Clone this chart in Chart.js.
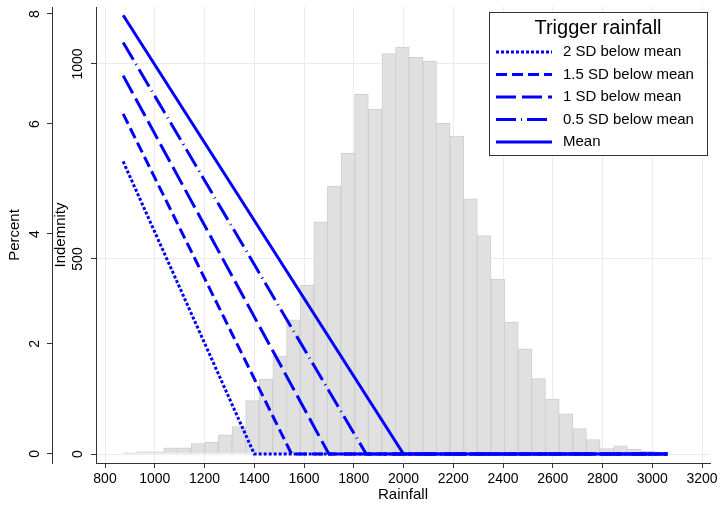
<!DOCTYPE html>
<html>
<head>
<meta charset="utf-8">
<script src="https://cdn.jsdelivr.net/npm/chart.js@4"></script>
<style>
  html, body { margin: 0; padding: 0; background: #fff; }
</style>
</head>
<body>
<canvas id="rainChart" width="721" height="507"></canvas>
<script>
// histogram of rainfall (percent per bin)
const binStart = 872;
const binWidth = 54.8;
const percent = [0.02, 0.04, 0.04, 0.11, 0.11, 0.19, 0.21, 0.35, 0.50, 0.97,
                 1.36, 1.78, 2.44, 3.07, 4.22, 4.87, 5.47, 6.54, 6.27, 7.28,
                 7.40, 7.21, 7.14, 6.01, 5.78, 4.64, 3.97, 3.18, 2.40, 1.91,
                 1.37, 1.00, 0.73, 0.46, 0.26, 0.10, 0.15, 0.09, 0.05, 0.02];

// indemnity lines for each trigger level
const triggerLabels = ['2 SD below mean', '1.5 SD below mean', '1 SD below mean', '0.5 SD below mean', 'Mean'];
const triggers = [1400, 1550, 1700, 1850, 2000];
const indemnityAtMin = [750, 872, 970, 1055, 1125];
const rainMin = 873;
const rainMax = 3061;

// tick labels
const xTicks = [800, 1000, 1200, 1400, 1600, 1800, 2000, 2200, 2400, 2600, 2800, 3000, 3200];
const pctTicks = [0, 2, 4, 6, 8];
const indTicks = [0, 500, 1000];

const dashes = [[3, 2], [11, 5], [20, 6], [20, 5, 1, 5], []];
const FONT = '"Liberation Sans", Arial, Helvetica, sans-serif';
Chart.defaults.font.family = FONT;
Chart.defaults.color = '#000';

const barData = percent.map((p, i) => ({ x: binStart + binWidth * (i + 0.5), y: p }));

const lineSets = triggers.map((t, i) => ({
  type: 'line',
  label: triggerLabels[i],
  data: [{ x: rainMin, y: indemnityAtMin[i] }, { x: t, y: 0 }, { x: rainMax, y: 0 }],
  yAxisID: 'yInd',
  borderColor: '#0000ff',
  borderWidth: 3,
  borderDash: dashes[i],
  borderCapStyle: 'butt',
  pointRadius: 0,
  tension: 0,
  fill: false,
  order: 5 - i
}));

const plain = v => String(v);
// no extra padding from label sizes, layout is fixed by hand
const noPad = s => { s.paddingTop = 0; s.paddingBottom = 0; s.paddingLeft = 0; s.paddingRight = 0; };

// Stata style legend box inside the plot
const legendBox = {
  id: 'legendBox',
  afterDraw(chart) {
    const ctx = chart.ctx;
    const x0 = 489, y0 = 12, w = 218, h = 143;
    ctx.save();
    ctx.fillStyle = '#fff';
    ctx.fillRect(x0, y0, w, h);
    ctx.strokeStyle = '#333';
    ctx.lineWidth = 1;
    ctx.strokeRect(x0 + 0.5, y0 + 0.5, w, h);
    ctx.fillStyle = '#000';
    ctx.font = '20px ' + FONT;
    ctx.textAlign = 'center';
    ctx.textBaseline = 'middle';
    ctx.fillText('Trigger rainfall', x0 + w / 2, 28);
    ctx.font = '15px ' + FONT;
    ctx.textAlign = 'left';
    lineSets.forEach((ds, i) => {
      const y = 52 + i * 22.5;
      ctx.beginPath();
      ctx.setLineDash(ds.borderDash);
      ctx.strokeStyle = ds.borderColor;
      ctx.lineWidth = 3;
      ctx.moveTo(496, y);
      ctx.lineTo(552, y);
      ctx.stroke();
      ctx.setLineDash([]);
      ctx.fillText(ds.label, 563, y);
    });
    ctx.restore();
  }
};

const ctx = document.getElementById('rainChart').getContext('2d');
new Chart(ctx, {
  type: 'bar',
  data: {
    datasets: [{
      type: 'bar',
      label: 'Rainfall',
      data: barData,
      yAxisID: 'yPct',
      backgroundColor: '#e0e0e0',
      borderColor: '#cfcfcf',
      borderWidth: 1,
      barPercentage: 1,
      categoryPercentage: 1,
      order: 10
    }].concat(lineSets)
  },
  options: {
    responsive: false,
    animation: false,
    layout: { padding: { top: 7, right: 11, left: 0, bottom: 0 } },
    plugins: { legend: { display: false }, tooltip: { enabled: false } },
    scales: {
      x: {
        type: 'linear',
        min: 763.8,
        max: 3232,
        offset: false,
        afterBuildTicks: s => { s.ticks = xTicks.map(v => ({ value: v })); },
        afterFit: s => { s.height = 44; noPad(s); },
        grid: { offset: false, color: '#ebebeb', tickColor: '#333', tickLength: 5 },
        border: { color: '#333' },
        ticks: { padding: 3, font: { size: 14 }, maxRotation: 0, callback: plain },
        title: { display: true, text: 'Rainfall', font: { size: 15 }, padding: { top: 0, bottom: 3 } }
      },
      yPct: {
        type: 'linear',
        position: 'left',
        weight: 1,
        min: -0.164,
        max: 8.127,
        afterBuildTicks: s => { s.ticks = pctTicks.map(v => ({ value: v })); },
        afterFit: s => { s.width = 52; noPad(s); },
        grid: { drawOnChartArea: false, tickColor: '#333', tickLength: 5 },
        border: { color: '#333' },
        ticks: { minRotation: 90, maxRotation: 90, crossAlign: 'center', padding: 8, font: { size: 14 }, callback: plain },
        title: { display: true, text: 'Percent', font: { size: 15 }, padding: { top: 6, bottom: 0 } }
      },
      yInd: {
        type: 'linear',
        position: 'left',
        weight: 0,
        min: -23,
        max: 1146,
        afterBuildTicks: s => { s.ticks = indTicks.map(v => ({ value: v })); },
        afterFit: s => { s.width = 44; noPad(s); },
        grid: { color: '#ebebeb', tickColor: '#333', tickLength: 5 },
        border: { color: '#333' },
        ticks: { minRotation: 90, maxRotation: 90, crossAlign: 'center', padding: -2.5, font: { size: 14 }, callback: plain },
        title: { display: true, text: 'Indemnity', font: { size: 15 }, padding: { top: 0, bottom: 0 } }
      }
    }
  },
  plugins: [legendBox]
});
</script>
</body>
</html>
